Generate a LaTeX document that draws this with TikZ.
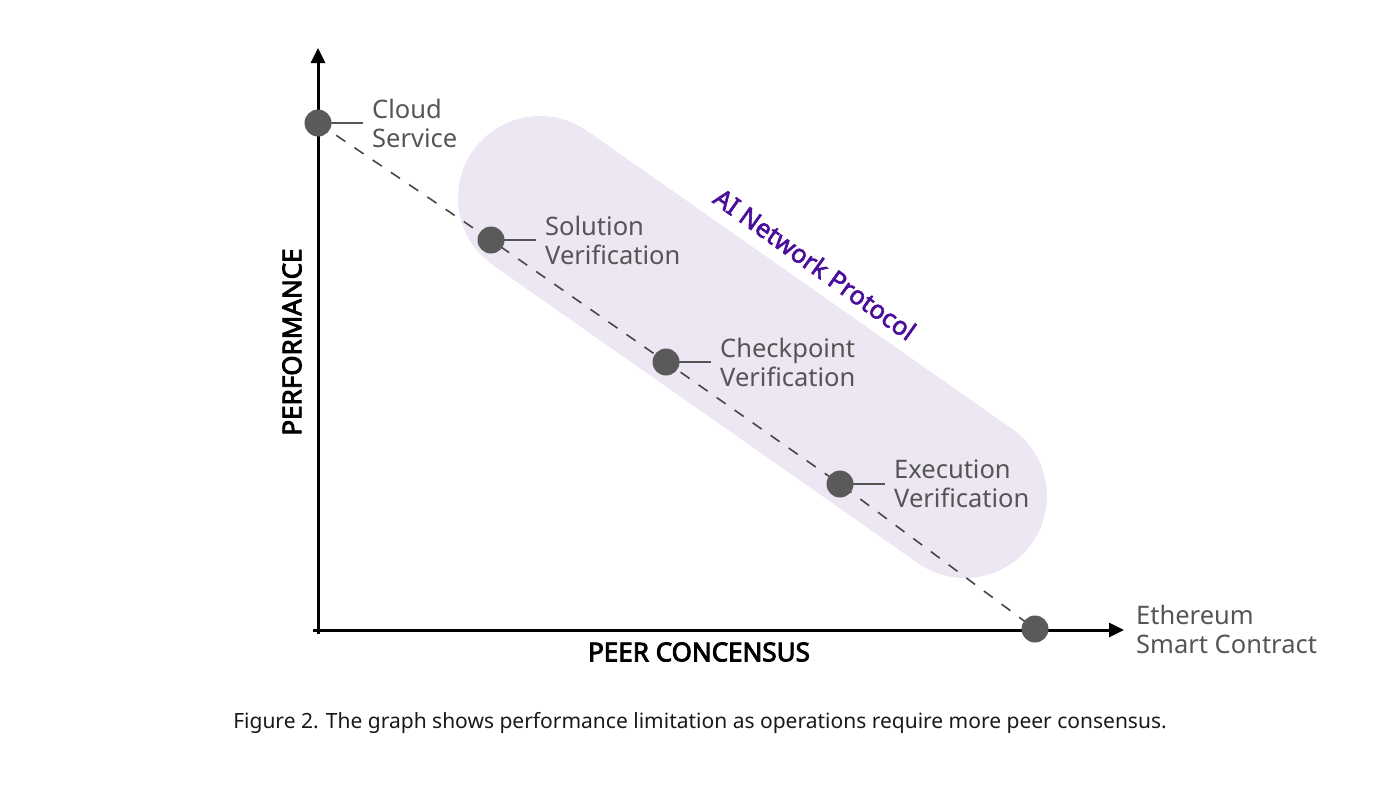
\documentclass[tikz,border=0pt]{standalone}
\usepackage{fontspec}
\setmainfont{Noto Sans}
\newfontfamily\boldnoto{Noto Sans}[FakeBold=3.4]
\newfontfamily\semibnoto{Noto Sans}[FakeBold=2.2]
\usetikzlibrary{arrows.meta,calc}
\definecolor{pill}{RGB}{236,231,243}
\definecolor{dotc}{RGB}{90,90,90}
\definecolor{labc}{RGB}{85,85,85}
\definecolor{purp}{RGB}{74,14,154}
\tikzset{
  axis/.style={line width=3pt,-{Triangle[length=15pt,width=14pt]}},
  pt/.style={circle,fill=dotc,inner sep=0pt,minimum size=27pt},
  lab/.style={anchor=west,align=left,text=labc,inner sep=0pt,font=\fontsize{25.5}{29}\selectfont},
  axlab/.style={font=\boldnoto\fontsize{26}{28}\selectfont,text=black,inner sep=0pt},
  leader/.style={draw=labc,line width=2pt},
  dsh/.style={draw=black!72,line width=1.6pt,dash pattern=on 11pt off 11pt}
}
\begin{document}
\begin{tikzpicture}[x=1pt,y=-1pt]
\useasboundingbox (0,0) rectangle (1400,788);
% pill band
\coordinate (c1) at (540,198);
\coordinate (c2) at (965,496);
\draw[pill,line width=164pt,line cap=round] (c1) -- (c2);
% axes
\coordinate (o) at (318,634);
\coordinate (ytop) at (318,48);
\coordinate (xo) at (313,630);
\coordinate (xend) at (1124,630);
\draw[axis] (o) -- (ytop);
\draw[axis] (xo) -- (xend);
% dots
\coordinate (cloud) at (318,123);
\coordinate (sol) at (491,240);
\coordinate (chk) at (666,362);
\coordinate (exe) at (840,484);
\coordinate (eth) at (1035,629);
% dashed line
\draw[dsh] (cloud) -- (sol) -- (chk) -- (exe) -- (eth);
% leaders
\foreach \n in {cloud,sol,chk,exe}{
  \coordinate (\n l) at ($(\n)+(45,0)$);
  \draw[leader] (\n) -- (\n l);
}
\foreach \n in {cloud,sol,chk,exe,eth} \node[pt] (\n d) at (\n) {};
% labels
\node[lab] (cloudt) at ($(cloud)+(54,0)$) {Cloud\\Service};
\node[lab] (solt) at ($(sol)+(54,0)$) {Solution\\Verification};
\node[lab] (chkt) at ($(chk)+(54,0)$) {Checkpoint\\Verification};
\node[lab] (exet) at ($(exe)+(54,0)$) {Execution\\Verification};
\node[lab] (etht) at ($(eth)+(101,0)$) {Ethereum\\Smart Contract};
% protocol label
\node[text=purp,font=\semibnoto\fontsize{25.5}{28}\selectfont,rotate=-35.5,inner sep=0pt] (proto) at (815,264) {AI Network Protocol};
% axis labels
\node[axlab,rotate=90] (perf) at (292,342) {PERFORMANCE};
\node[axlab] (peer) at (699,652) {PEER CONCENSUS};
% caption
\node[font=\fontsize{21}{24}\selectfont,text=black!90,inner sep=0pt] (cap) at (700,723) {Figure 2. The graph shows performance limitation as operations require more peer consensus.};
\end{tikzpicture}
\end{document}
